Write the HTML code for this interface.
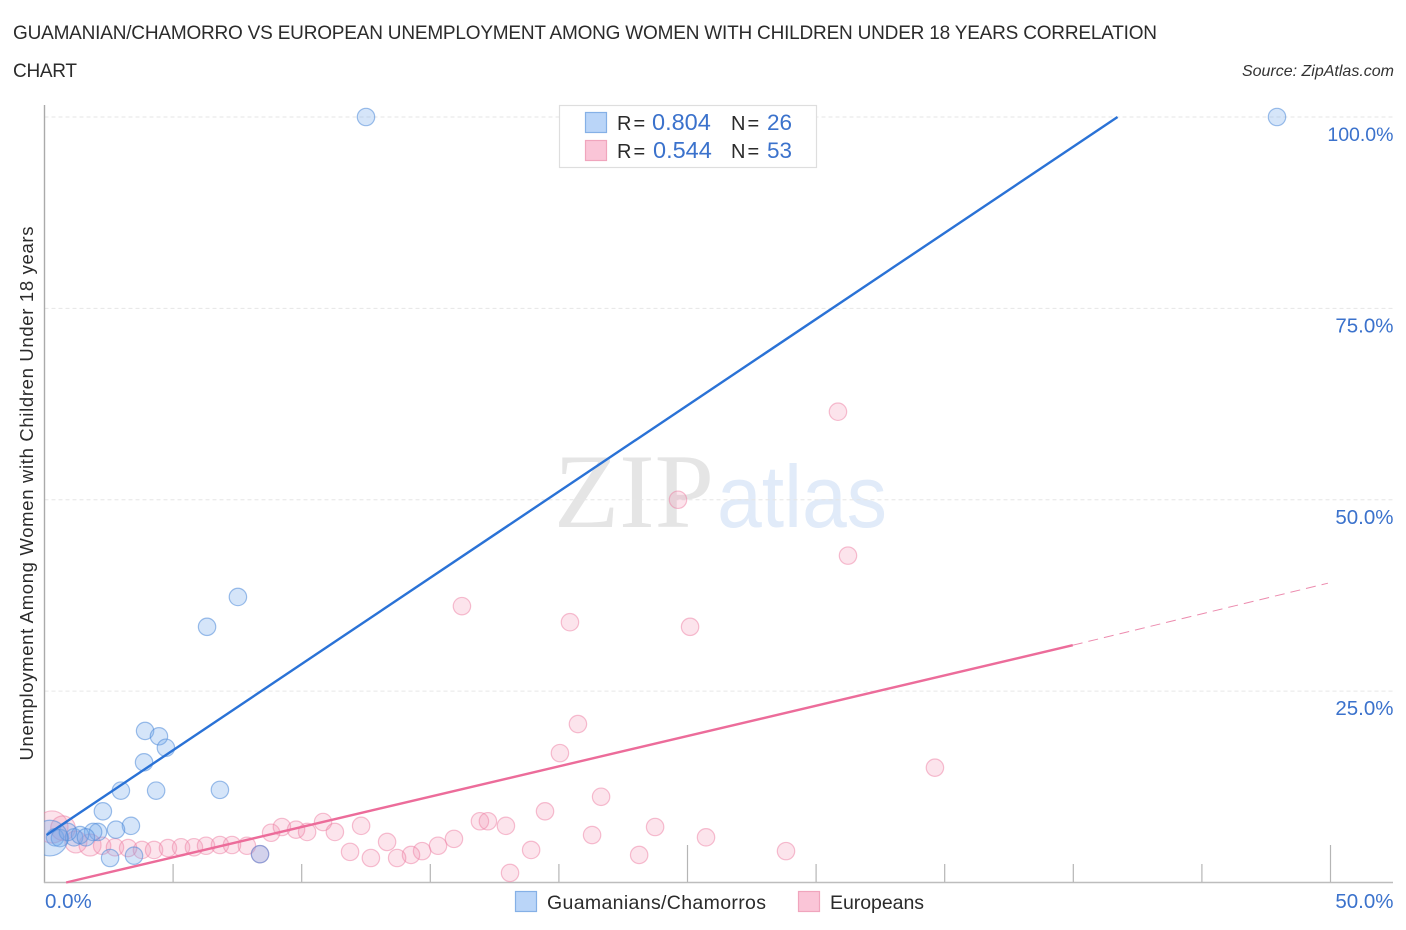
<!DOCTYPE html>
<html lang="en">
<head>
<meta charset="utf-8">
<title>Guamanian/Chamorro vs European Unemployment Correlation Chart</title>
<style>
html,body{margin:0;padding:0;background:#fff;}
body{width:1406px;height:930px;overflow:hidden;}
svg{display:block;font-family:"Liberation Sans",sans-serif;}
</style>
</head>
<body>
<svg id="chart" width="1406" height="930" viewBox="0 0 1406 930" xmlns="http://www.w3.org/2000/svg">
  <defs>
    <clipPath id="plot-clip"><rect x="44" y="90" width="1362" height="793"/></clipPath>
  </defs>
  <text x="13" y="39" font-size="19" fill="#2b2b2b" textLength="1144" lengthAdjust="spacing">GUAMANIAN/CHAMORRO VS EUROPEAN UNEMPLOYMENT AMONG WOMEN WITH CHILDREN UNDER 18 YEARS CORRELATION</text>
  <text x="13" y="77" font-size="19" fill="#2b2b2b" textLength="64" lengthAdjust="spacing">CHART</text>
  <text x="1394" y="76" font-size="16" font-style="italic" fill="#333" text-anchor="end">Source: ZipAtlas.com</text>

  <g>
    <text x="554" y="527" font-family="'Liberation Serif',serif" font-size="106" fill="#e5e5e5" textLength="160" lengthAdjust="spacingAndGlyphs">ZIP</text>
    <text x="717" y="527" font-size="88" fill="#e1ebf9" textLength="170" lengthAdjust="spacingAndGlyphs">atlas</text>
  </g>

  <g id="grid"></g>
  <g id="axes"></g>
  <g id="points" clip-path="url(#plot-clip)"></g>
  <g id="trends"></g>

  <text transform="translate(33,493.5) rotate(-90)" font-size="18.5" fill="#2b2b2b" text-anchor="middle" textLength="534" lengthAdjust="spacing">Unemployment Among Women with Children Under 18 years</text>

  <g>
    <rect x="559.5" y="105.5" width="257" height="62" fill="#fff" stroke="#dedede" stroke-width="1.2"/>
    <rect x="585.5" y="112.5" width="21" height="20" fill="#bad5f8" stroke="#85b0e6" stroke-width="1.2"/>
    <rect x="585.5" y="140.5" width="21" height="20" fill="#fac5d7" stroke="#f0a5bd" stroke-width="1.2"/>
    <text y="130" font-size="20" fill="#2b2b2b" word-spacing="-3.5"><tspan x="617">R =</tspan><tspan x="652" fill="#3b72cc" font-size="23.5">0.804</tspan><tspan x="731">N =</tspan><tspan x="767" fill="#3b72cc" font-size="22.5">26</tspan></text>
    <text y="158" font-size="20" fill="#2b2b2b" word-spacing="-3.5"><tspan x="617">R =</tspan><tspan x="653" fill="#3b72cc" font-size="23.5">0.544</tspan><tspan x="731">N =</tspan><tspan x="767" fill="#3b72cc" font-size="22.5">53</tspan></text>
  </g>

  <g>
    <rect x="515.5" y="891.5" width="21" height="20" fill="#bad5f8" stroke="#85b0e6" stroke-width="1.2"/>
    <text x="547" y="909" font-size="19.5" fill="#2b2b2b" textLength="219" lengthAdjust="spacing">Guamanians/Chamorros</text>
    <rect x="798.5" y="891.5" width="21" height="20" fill="#fac5d7" stroke="#f0a5bd" stroke-width="1.2"/>
    <text x="830" y="909" font-size="19.5" fill="#2b2b2b" textLength="94" lengthAdjust="spacing">Europeans</text>
  </g>
</svg>
<script>
// Guamanians/Chamorros
const blueX = [12.5,47.92,7.52,6.32,3.91,4.45,4.72,3.87,2.97,4.34,6.82,2.27,3.36,2.78,2.08,1.89,2.55,3.48,8.38,0.41,0.60,1.15,1.38,1.61,0.91,0.21];
const blueY = [100,100,37.3,33.4,19.8,19.1,17.6,15.7,12.0,12.0,12.1,9.3,7.4,6.9,6.6,6.6,3.2,3.5,3.7,5.9,5.8,5.9,6.2,5.9,6.6,5.8];
const blueWeight = [1,1,1,1,1,1,1,1,1,1,1,1,1,1,1,1,1,1,1,1,1,1,1,1,1,4.2];
// Europeans
const pinkX = [30.85,24.63,31.24,16.23,20.43,25.1,34.62,20.74,20.04,21.64,19.46,16.93,17.24,17.94,12.31,23.74,21.29,25.72,15.92,13.32,15.3,14.68,14.25,13.71,12.69,11.88,18.92,23.12,28.83,18.1,0.29,0.72,1.22,1.77,2.24,2.74,3.25,3.79,4.26,4.8,5.31,5.81,6.28,6.82,7.29,7.87,8.38,8.81,9.23,9.78,10.21,10.83,11.29];
const pinkY = [61.5,50,42.7,36.1,34.0,33.4,15.0,20.7,16.9,11.2,9.3,8.0,8.0,7.4,7.4,7.25,6.2,5.9,5.7,5.3,4.8,4.1,3.6,3.2,3.2,4.0,4.25,3.6,4.1,1.25,7.25,7.1,5.3,4.9,4.8,4.6,4.5,4.25,4.25,4.5,4.6,4.6,4.8,4.9,4.9,4.8,3.7,6.5,7.25,6.9,6.6,7.9,6.6];
const pinkWeight = [1,1,1,1,1,1,1,1,1,1,1,1,1,1,1,1,1,1,1,1,1,1,1,1,1,1,1,1,1,1,3.4,2,1.6,1.6,1,1,1,1,1,1,1,1,1,1,1,1,1,1,1,1,1,1,1];
// Trend lines: [x, y] in axis units
const blueTrendX = [0.08,41.72];
const blueTrendY = [6.2,100];
const pinkTrendX = [0.84,39.98];
const pinkTrendY = [0,31.0];
const pinkTrendExtendX = [39.98,49.9];
const pinkTrendExtendY = [31.0,39.1];
// Axes
const xTicks = [0,5,10,15,20,25,30,35,40,45,50];
const xMajorTicks = [25,50];
const yTicks = [25,50,75,100];
const yTickLabels = ["25.0%","50.0%","75.0%","100.0%"];
const xEndTicks = [0,50];
const xEndLabels = ["0.0%","50.0%"];

const NS = "http://www.w3.org/2000/svg";
function xScale(v){ return 44.5 + v * 25.72; }
function yScale(v){ return 882.5 - v * 7.655; }
function mk(parent, tag, attrs){
  const el = document.createElementNS(NS, tag);
  for (const k in attrs) el.setAttribute(k, attrs[k]);
  document.getElementById(parent).appendChild(el);
  return el;
}

yTicks.forEach(function(t, i){
  const g = mk("grid", "line", {x1:44.5, x2:1393, y1:yScale(t), y2:yScale(t), stroke:"#e6e6e6", "stroke-width":1, "stroke-dasharray":"4 3"});
  
  
  const l = mk("axes", "text", {x:1393.5, y:yScale(t) + 24, "font-size": t === 100 ? 19.5 : 20.5, fill:"#3b72cc", "text-anchor":"end"});
  l.textContent = yTickLabels[i];
  
  
});

const yAxis = mk("axes", "line", {x1:44.5, x2:44.5, y1:105, y2:883, stroke:"#aaaaaa", "stroke-width":1.4});


const xAxis = mk("axes", "line", {x1:44, x2:1393, y1:882.5, y2:882.5, stroke:"#bdbdbd", "stroke-width":1.4});



xTicks.forEach(function(t){
  if (t === 0) return;
  const major = xMajorTicks.indexOf(t) >= 0;
  const m = mk("axes", "line", {x1:xScale(t), x2:xScale(t), y1:major ? 845 : 864, y2:882, stroke:"#b5b5b5", "stroke-width":1.2});
  
  
});

xEndTicks.forEach(function(t, i){
  const l = mk("axes", "text", {x: i === 0 ? xScale(t) + 0.5 : 1393.5, y:908, "font-size":20.5, fill:"#3b72cc", "text-anchor": i === 0 ? "start" : "end"});
  l.textContent = xEndLabels[i];
  
  
});

function radius(w){ return 8.7 * Math.sqrt(w); }

pinkX.forEach(function(v, i){
  const c = mk("points", "circle", {cx:xScale(v), cy:yScale(pinkY[i]), r:radius(pinkWeight[i]), fill:"#f48fb1", "fill-opacity":0.24, stroke:"#ee7fa3", "stroke-opacity":0.5, "stroke-width":1.2});
  
  
});
blueX.forEach(function(v, i){
  const c = mk("points", "circle", {cx:xScale(v), cy:yScale(blueY[i]), r:radius(blueWeight[i]), fill:"#74a8ea", "fill-opacity":0.3, stroke:"#4f8bd9", "stroke-opacity":0.55, "stroke-width":1.2});
  
  
});

const t1 = mk("trends", "line", {x1:xScale(blueTrendX[0]), y1:yScale(blueTrendY[0]), x2:xScale(blueTrendX[1]), y2:yScale(blueTrendY[1]), stroke:"#2a72d6", "stroke-width":2.4});


const t2 = mk("trends", "line", {x1:xScale(pinkTrendX[0]), y1:yScale(pinkTrendY[0]), x2:xScale(pinkTrendX[1]), y2:yScale(pinkTrendY[1]), stroke:"#ec6c9a", "stroke-width":2.4});


const t3 = mk("trends", "line", {x1:xScale(pinkTrendExtendX[0]), y1:yScale(pinkTrendExtendY[0]), x2:xScale(pinkTrendExtendX[1]), y2:yScale(pinkTrendExtendY[1]), stroke:"#ec8bae", "stroke-width":1, "stroke-dasharray":"10 6"});


</script>
</body>
</html>
